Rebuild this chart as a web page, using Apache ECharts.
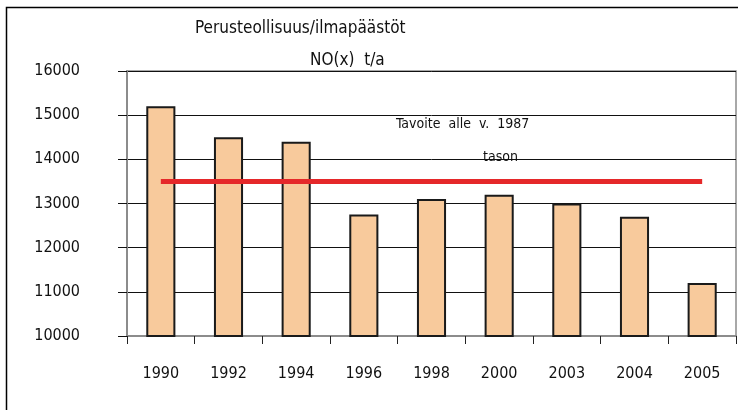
<!DOCTYPE html>
<html>
<head>
<meta charset="utf-8">
<script src="https://cdn.jsdelivr.net/npm/echarts@6/dist/echarts.min.js"></script>
<style>
  html, body { margin: 0; padding: 0; background: #fff; }
  #chart { width: 738px; height: 410px; }
</style>
</head>
<body>
<div id="chart"></div>
<script>
var years = ['1990', '1992', '1994', '1996', '1998', '2000', '2003', '2004', '2005'];
var emissions = [15200, 14500, 14400, 12750, 13100, 13200, 13000, 12700, 11200];
var target = [13500, 13500, 13500, 13500, 13500, 13500, 13500, 13500, 13500];
var yTicks = { min: 10000, max: 16000, step: 1000 };

var FONT = '"DejaVu Sans Condensed", "Liberation Sans Narrow", sans-serif';

var myChart = echarts.init(document.getElementById('chart'));

var option = {
    animation: false,
    backgroundColor: '#fff',
    textStyle: { fontFamily: FONT },
    grid: {
        left: 127,
        top: 71,
        right: 2,
        bottom: 74,
        show: true,
        borderColor: '#8c8c8c',
        borderWidth: 1.5
    },
    xAxis: {
        type: 'category',
        data: years,
        axisLine: { lineStyle: { color: '#8c8c8c', width: 2 } },
        axisTick: { show: true, length: 8, lineStyle: { color: '#222', width: 1 } },
        axisLabel: { color: '#111', fontSize: 16, margin: 30, fontFamily: FONT }
    },
    yAxis: {
        type: 'value',
        min: yTicks.min,
        max: yTicks.max,
        interval: yTicks.step,
        axisLine: { show: true, lineStyle: { color: '#8c8c8c', width: 2 } },
        axisTick: { show: true, length: 9, lineStyle: { color: '#111' } },
        axisLabel: {
            color: '#111', fontSize: 16, margin: 47, fontFamily: FONT,
            formatter: function (v) { return String(v); }
        },
        splitLine: { lineStyle: { color: '#111', width: 1 } }
    },
    series: [
        {
            name: 'NO(x)',
            type: 'bar',
            data: emissions,
            barWidth: '43%',
            itemStyle: { color: '#f8ca9c', borderColor: '#1a1a1a', borderWidth: 2 }
        },
        {
            name: 'Tavoite',
            type: 'line',
            data: target,
            symbol: 'none',
            lineStyle: { color: '#e5282a', width: 5 },
            z: 5
        }
    ],
    graphic: [
        {
            type: 'rect',
            shape: { x: 6.5, y: 7.5, width: 800, height: 500 },
            style: { fill: 'none', stroke: '#000', lineWidth: 1.5 },
            silent: true
        },
        {
            type: 'text', left: 195, top: 20,
            style: { text: 'Perusteollisuus/ilmapäästöt', font: '17px ' + FONT, fill: '#111' }
        },
        {
            type: 'text', left: 310, top: 52,
            style: { text: 'NO(x)  t/a', font: '17px ' + FONT, fill: '#111' }
        },
        {
            type: 'text', left: 396, top: 117,
            style: { text: 'Tavoite  alle  v.  1987', font: '14px ' + FONT, fill: '#111' }
        },
        {
            type: 'text', left: 483, top: 150,
            style: { text: 'tason', font: '14px ' + FONT, fill: '#111' }
        }
    ]
};

myChart.setOption(option);
</script>
</body>
</html>
